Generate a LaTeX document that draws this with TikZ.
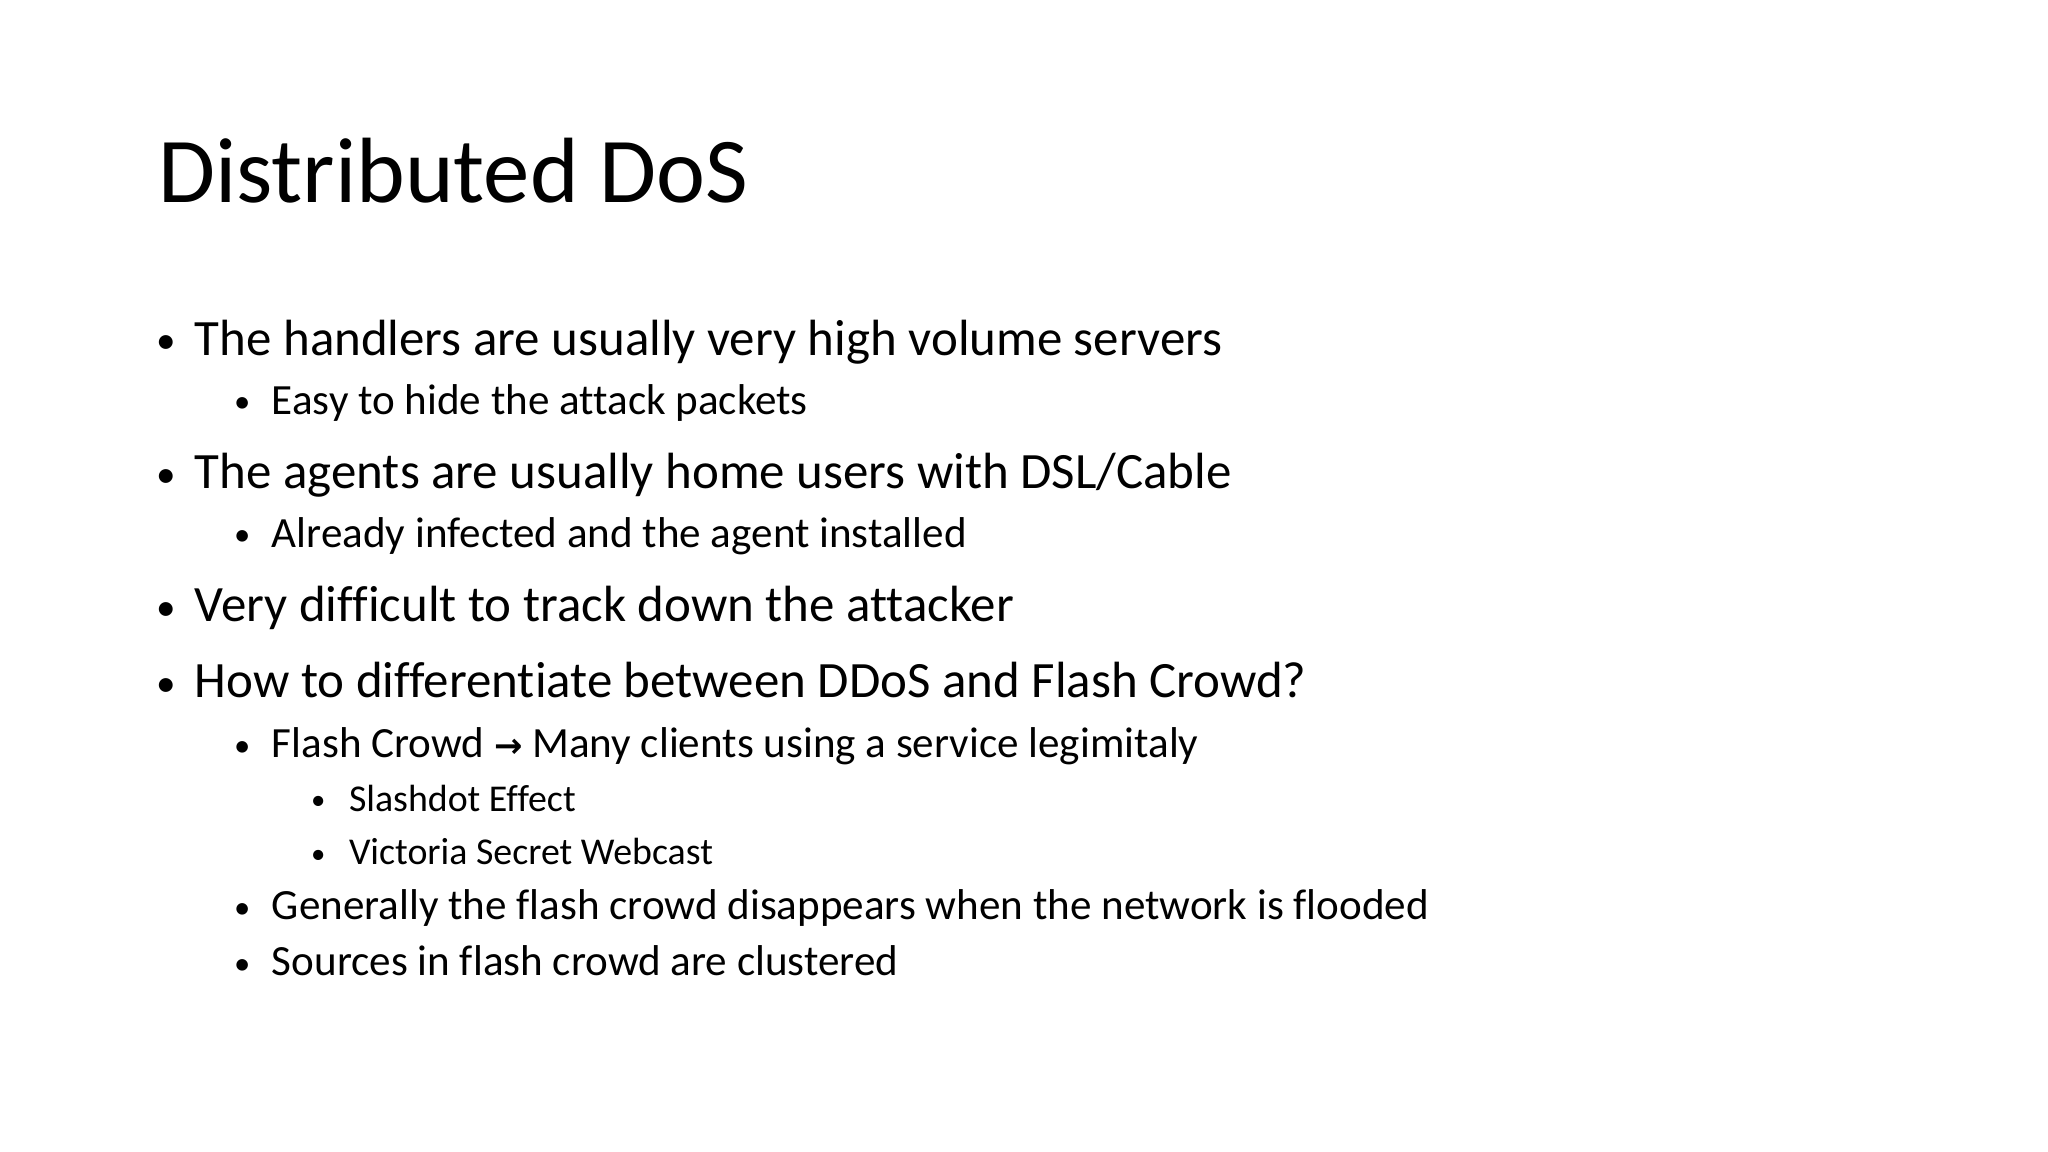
\documentclass[tikz,border=0pt]{standalone}
\usepackage{fontspec}
\setmainfont[Ligatures=CommonOff]{Carlito}
\newfontfamily\arrowfont{DejaVu Sans}
\begin{document}
\begin{tikzpicture}[x=1pt,y=1pt,
  lone/.style={anchor=base west,inner sep=0pt,font=\fontsize{39}{44}\selectfont},
  ltwo/.style={anchor=base west,inner sep=0pt,font=\fontsize{33}{38}\selectfont},
  lthree/.style={anchor=base west,inner sep=0pt,font=\fontsize{29}{34}\selectfont},
  bul/.style={anchor=base west,inner sep=0pt}]
\fill[white] (0,0) rectangle (1568,-882);
\node[anchor=base west,inner sep=0pt,font=\fontsize{71}{76}\selectfont] (title) at (121,-155) {Distributed DoS};
\foreach \n/\y/\t in {a/272/The handlers are usually very high volume servers,
  c/374/{The agents are usually home users with DSL/Cable},
  e/476/Very difficult to track down the attacker,
  f/534/How to differentiate between DDoS and Flash Crowd?}{
  \node[bul,font=\fontsize{30}{34}\selectfont] (b\n) at (120,-\y+1) {•};
  \node[lone] (\n) at (149,-\y) {\t};}
\foreach \n/\y/\t in {b/317/Easy to hide the attack packets,
  d/419/Already infected and the agent installed,
  g/580/Flash Crowd {\arrowfont\bfseries\fontsize{26}{30}\selectfont→} Many clients using a service legimitaly,
  j/704/Generally the flash crowd disappears when the network is flooded,
  k/747/Sources in flash crowd are clustered}{
  \node[bul,font=\fontsize{25}{30}\selectfont] (b\n) at (179,-\y+1) {•};
  \node[ltwo] (\n) at (208,-\y) {\t};}
\foreach \n/\y/\t in {h/621/Slashdot Effect,i/662/Victoria Secret Webcast}{
  \node[bul,font=\fontsize{22}{26}\selectfont] (b\n) at (238,-\y+1) {•};
  \node[lthree] (\n) at (267,-\y) {\t};}
\end{tikzpicture}
\end{document}
